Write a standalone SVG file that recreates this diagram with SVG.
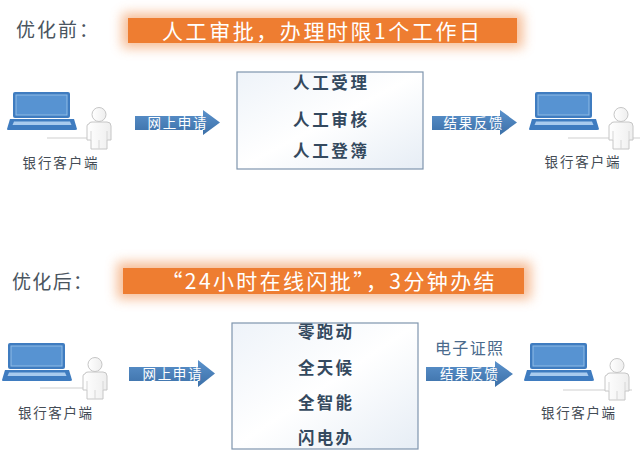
<svg xmlns="http://www.w3.org/2000/svg" xmlns:xlink="http://www.w3.org/1999/xlink" width="640" height="450" viewBox="0 0 640 450">
<style>
.t{font-family:"Noto Sans CJK SC","Noto Sans",sans-serif}
.head{font-size:19px;fill:#4a5560}
.ban{font-size:21px;fill:#ffffff}
.box{font-size:16.5px;font-weight:bold;fill:#34495e}
.cli{font-size:13.5px;fill:#444c55}
.arr{font-size:13.5px;fill:#ffffff}
.blue{font-size:16px;fill:#4a6a8c}
.boxr{stroke:#7f95ad;stroke-width:1.2;fill:url(#boxg)}
.ln{stroke:#cfcfcf;stroke-width:1}
</style>
<defs>
<linearGradient id="boxg" x1="0" y1="0" x2="1" y2="1">
<stop offset="0" stop-color="#eef3f9"/><stop offset="0.5" stop-color="#ffffff"/><stop offset="1" stop-color="#e6edf5"/>
</linearGradient>
<linearGradient id="arrg" x1="0" y1="0" x2="0" y2="1">
<stop offset="0" stop-color="#5b92cc"/><stop offset="1" stop-color="#3c70a8"/>
</linearGradient>
<linearGradient id="pg" x1="0" y1="0" x2="1" y2="0">
<stop offset="0" stop-color="#ffffff"/><stop offset="1" stop-color="#eeeeee"/>
</linearGradient>
<filter id="glow" x="-20%" y="-80%" width="140%" height="260%">
<feGaussianBlur stdDeviation="6"/>
</filter>
<g id="laptop">
<rect x="0" y="0" width="57" height="26" rx="2" fill="#3f7cc0"/>
<rect x="3" y="3" width="51" height="20" fill="#5793d2" stroke="#8fbbe6" stroke-width="1"/>
<path d="M-3,27 L61,27 L64,37 Q64,38 62,38 L-5,38 Q-6,38 -6,37 Z" fill="#3f7cc0"/>
<path d="M1,29.5 L57,29.5 L58.5,33 L-0.5,33 Z" fill="#a9cbee"/>
</g>
<g id="person">
<circle cx="13" cy="7.5" r="7" fill="url(#pg)" stroke="#c6c6c6" stroke-width="1"/>
<path d="M3,17 Q3,15 6,15 L21,15 Q25,15 25,19 L25,33 L21,33 L21,42 L5,42 L5,33 L1,33 L1,19 Q1,17 3,17 Z" fill="url(#pg)" stroke="#c6c6c6" stroke-width="1"/>
<path d="M5,24 L5,33 M21,24 L21,33 M13,33 L13,42" stroke="#d6d6d6" stroke-width="1" fill="none"/>
</g>
</defs>
<rect width="640" height="450" fill="#ffffff"/>

<!-- Top section -->
<g id="label-before"><text class="t head" x="16" y="37" textLength="82" lengthAdjust="spacing">优化前：</text></g>
<g id="banner-before">
<rect x="122" y="13" width="401" height="35" fill="#f3a774" opacity="0.75" filter="url(#glow)"/>
<rect x="128" y="18" width="389" height="25" fill="#ee7d31"/>
<text class="t ban" x="321" y="38.5" text-anchor="middle" textLength="318" lengthAdjust="spacing">人工审批，办理时限1个工作日</text>
</g>
<g id="client-left-top">
<line class="ln" x1="47" y1="138" x2="90" y2="138"/>
<use xlink:href="#laptop" x="13" y="92"/>
<use xlink:href="#person" x="86" y="107"/>
<text class="t cli" x="60" y="168" text-anchor="middle" textLength="75" lengthAdjust="spacing">银行客户端</text>
</g>
<g id="process-before">
<rect class="boxr" x="237" y="72" width="186" height="97"/>
<text class="t box" x="330" y="89" text-anchor="middle" textLength="74" lengthAdjust="spacing">人工受理</text>
<text class="t box" x="330" y="126" text-anchor="middle" textLength="74" lengthAdjust="spacing">人工审核</text>
<text class="t box" x="330" y="157" text-anchor="middle" textLength="74" lengthAdjust="spacing">人工登簿</text>
</g>
<g id="client-right-top">
<line class="ln" x1="568" y1="138" x2="640" y2="138"/>
<use xlink:href="#laptop" x="535" y="92"/>
<use xlink:href="#person" x="608" y="107"/>
<text class="t cli" x="582" y="167" text-anchor="middle" textLength="75" lengthAdjust="spacing">银行客户端</text>
</g>

<!-- Bottom section -->
<g id="label-after"><text class="t head" x="12" y="289" textLength="80" lengthAdjust="spacing">优化后：</text></g>
<g id="banner-after">
<rect x="117" y="262" width="414" height="37" fill="#f3a774" opacity="0.75" filter="url(#glow)"/>
<rect x="123" y="268" width="401" height="26" fill="#ee7d31"/>
<text class="t ban" x="328" y="288.5" text-anchor="middle" textLength="333" lengthAdjust="spacing">“24小时在线闪批”，3分钟办结</text>
</g>
<g id="client-left-bottom">
<line class="ln" x1="40" y1="388" x2="85" y2="388"/>
<use xlink:href="#laptop" x="8" y="343"/>
<use xlink:href="#person" x="82" y="357"/>
<text class="t cli" x="55" y="418" text-anchor="middle" textLength="74" lengthAdjust="spacing">银行客户端</text>
</g>
<g id="process-after">
<rect class="boxr" x="232" y="323" width="186" height="126"/>
<text class="t box" x="325" y="338" text-anchor="middle" textLength="54" lengthAdjust="spacing">零跑动</text>
<text class="t box" x="325" y="374" text-anchor="middle" textLength="54" lengthAdjust="spacing">全天候</text>
<text class="t box" x="325" y="409" text-anchor="middle" textLength="54" lengthAdjust="spacing">全智能</text>
<text class="t box" x="325" y="444" text-anchor="middle" textLength="54" lengthAdjust="spacing">闪电办</text>
</g>
<g id="client-right-bottom">
<line class="ln" x1="563" y1="390" x2="632" y2="390"/>
<use xlink:href="#laptop" x="530" y="343"/>
<use xlink:href="#person" x="604" y="358"/>
<text class="t cli" x="578" y="418" text-anchor="middle" textLength="74" lengthAdjust="spacing">银行客户端</text>
</g>
<g id="label-ecert"><text class="t blue" x="469" y="354" text-anchor="middle" textLength="68" lengthAdjust="spacing">电子证照</text></g>

<!-- Connectors -->
<g id="connectors">
<path d="M135,116 L203,116 L203,110 L220,122.5 L203,135 L203,130 L135,130 Z" fill="url(#arrg)"/>
<text class="t arr" x="177" y="128" text-anchor="middle" textLength="59" lengthAdjust="spacing">网上申请</text>
<path d="M432,116 L500,116 L500,110 L517,122.5 L500,135 L500,130 L432,130 Z" fill="url(#arrg)"/>
<text class="t arr" x="473" y="128" text-anchor="middle" textLength="59" lengthAdjust="spacing">结果反馈</text>
<path d="M129,367 L198,367 L198,360 L215,373.5 L198,387 L198,381 L129,381 Z" fill="url(#arrg)"/>
<text class="t arr" x="172" y="379" text-anchor="middle" textLength="59" lengthAdjust="spacing">网上申请</text>
<path d="M426,367 L495,367 L495,361 L513,374 L495,387 L495,381 L426,381 Z" fill="url(#arrg)"/>
<text class="t arr" x="469" y="379" text-anchor="middle" textLength="58" lengthAdjust="spacing">结果反馈</text>
</g>
</svg>
